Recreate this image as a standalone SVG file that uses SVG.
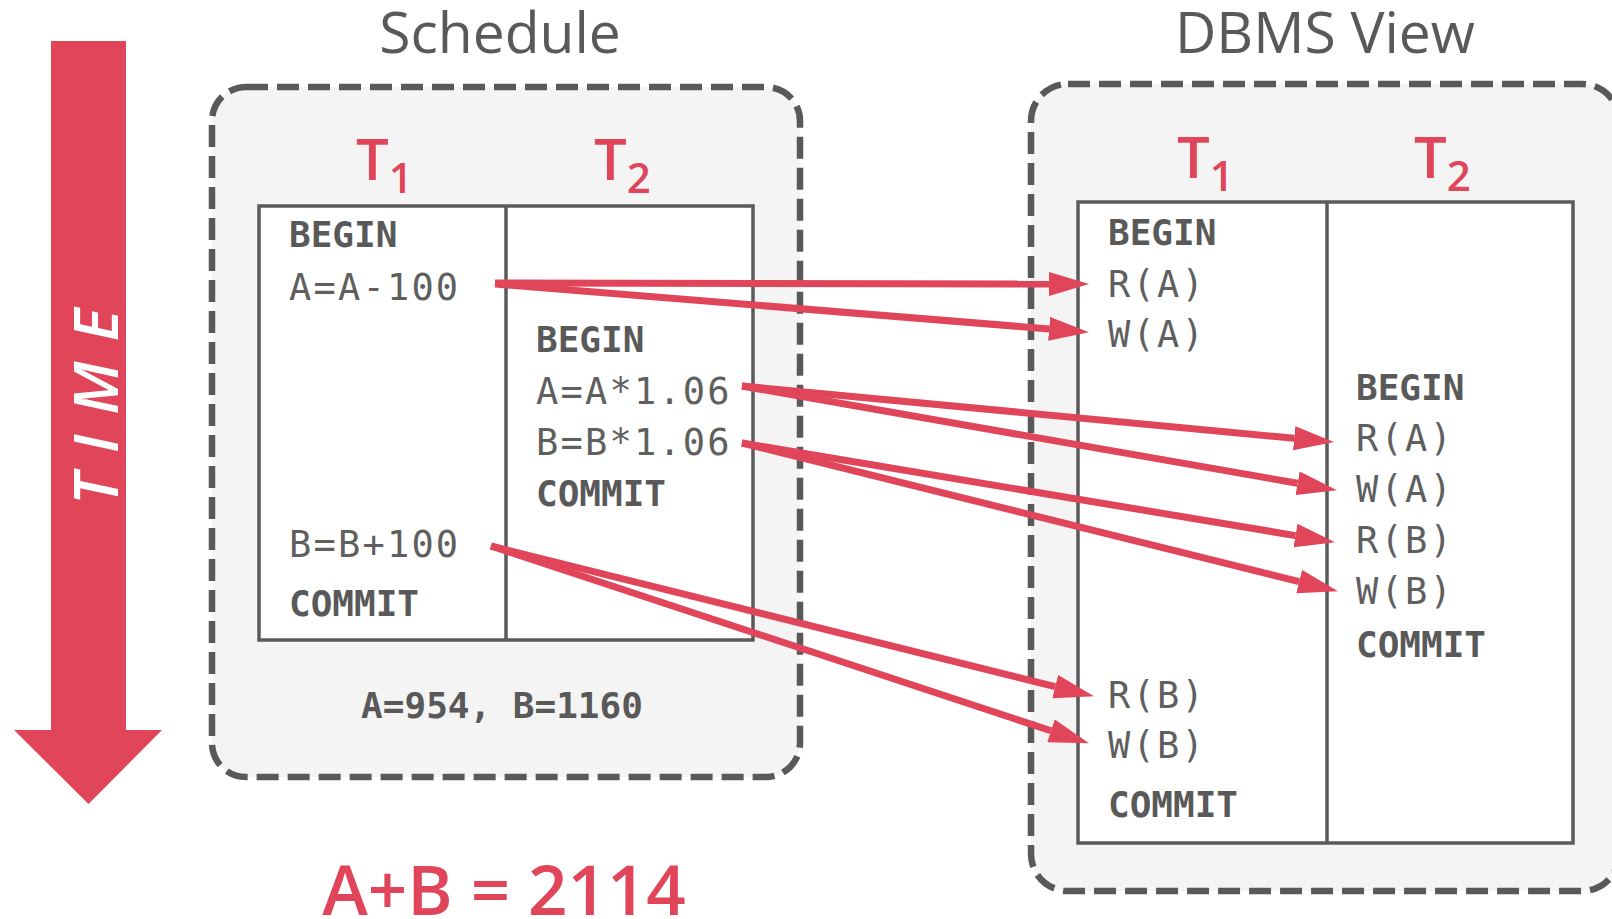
<svg xmlns="http://www.w3.org/2000/svg" width="1612" height="919" viewBox="0 0 1612 919">
  <defs>
    <style>
      .title { font-family: "Open Sans", "Noto Sans", sans-serif; font-size: 57px; fill: #595959; }
      .tlab { font-family: "Open Sans", "Noto Sans", sans-serif; font-weight: 600; font-size: 58px; fill: #E0455A; }
      .sub { font-size: 42px; }
      .box { fill: #F4F4F4; stroke: #595959; stroke-width: 6.5; stroke-dasharray: 22 9; }
      .tbl { fill: #FFFFFF; stroke: #5A5A5A; stroke-width: 3.5; }
      .div { stroke: #5A5A5A; stroke-width: 3.5; }
      .kw { font-family: "DejaVu Sans Mono", "Liberation Mono", monospace; font-weight: bold; font-size: 36px; fill: #595959; }
      .op { font-family: "DejaVu Sans Mono", "Liberation Mono", monospace; font-size: 37px; letter-spacing: 2.2px; fill: #5F5F5F; }
      .res { font-family: "DejaVu Sans Mono", "Liberation Mono", monospace; font-weight: bold; font-size: 36px; fill: #595959; }
      .sum { font-family: "Open Sans", "Noto Sans", sans-serif; font-weight: 600; font-size: 69px; fill: #E0455A; }
      .time { font-family: "Open Sans", "Noto Sans", sans-serif; font-style: italic; font-weight: 600; font-size: 62px; letter-spacing: 20px; fill: #FFFFFF; }
      .conn line { stroke: #E0455A; stroke-width: 7; fill: none; }
    </style>
    <marker id="ah" markerUnits="userSpaceOnUse" markerWidth="40" markerHeight="24" viewBox="0 0 40 24" refX="0" refY="12" orient="auto">
      <path d="M0,0 L40,12 L0,24 Z" fill="#E0455A"/>
    </marker>
  </defs>

  <rect width="1612" height="919" fill="#FFFFFF"/>

  <g id="time-arrow">
    <path d="M51,41 H126 V730 H162 L88.5,804 L14,730 H51 Z" fill="#E0455A"/>
    <text class="time" transform="translate(118,505) rotate(-90)" x="0" y="0">TIME</text>
  </g>

  <g id="schedule">
    <text class="title" x="500" y="53" text-anchor="middle">Schedule</text>
    <rect class="box" x="212" y="87" width="588" height="690" rx="34" ry="34"/>
    <text class="tlab" x="356" y="180">T<tspan class="sub" dy="13">1</tspan></text>
    <text class="tlab" x="594" y="180">T<tspan class="sub" dy="13">2</tspan></text>
    <rect class="tbl" x="259" y="206" width="494" height="434"/>
    <line class="div" x1="506" y1="206" x2="506" y2="640"/>
    <text class="kw" x="289" y="247">BEGIN</text>
    <text class="op" x="289" y="300">A=A-100</text>
    <text class="op" x="289" y="557">B=B+100</text>
    <text class="kw" x="289" y="616">COMMIT</text>
    <text class="kw" x="536" y="352">BEGIN</text>
    <text class="op" x="536" y="404">A=A*1.06</text>
    <text class="op" x="536" y="455">B=B*1.06</text>
    <text class="kw" x="536" y="506">COMMIT</text>
    <text class="res" x="502" y="718" text-anchor="middle">A=954, B=1160</text>
  </g>

  <g id="dbms-view">
    <text class="title" x="1325" y="53" text-anchor="middle">DBMS View</text>
    <rect class="box" x="1031" y="84" width="588" height="807" rx="37" ry="37"/>
    <text class="tlab" x="1177" y="178">T<tspan class="sub" dy="13">1</tspan></text>
    <text class="tlab" x="1414" y="178">T<tspan class="sub" dy="13">2</tspan></text>
    <rect class="tbl" x="1078" y="202" width="495" height="641"/>
    <line class="div" x1="1327" y1="202" x2="1327" y2="843"/>
    <text class="kw" x="1108" y="245">BEGIN</text>
    <text class="op" x="1108" y="297">R(A)</text>
    <text class="op" x="1108" y="347">W(A)</text>
    <text class="op" x="1108" y="708">R(B)</text>
    <text class="op" x="1108" y="758">W(B)</text>
    <text class="kw" x="1108" y="817">COMMIT</text>
    <text class="kw" x="1356" y="400">BEGIN</text>
    <text class="op" x="1356" y="451">R(A)</text>
    <text class="op" x="1356" y="502">W(A)</text>
    <text class="op" x="1356" y="553">R(B)</text>
    <text class="op" x="1356" y="604">W(B)</text>
    <text class="kw" x="1356" y="657">COMMIT</text>
  </g>

  <g id="sum">
    <text class="sum" x="504" y="915" text-anchor="middle">A+B = 2114</text>
  </g>

  <g id="connectors" class="conn">
    <line x1="495" y1="283" x2="1049" y2="284" marker-end="url(#ah)"/>
    <line x1="495" y1="284" x2="1049.1" y2="328.9" marker-end="url(#ah)"/>
    <line x1="742" y1="386" x2="1294.2" y2="438.3" marker-end="url(#ah)"/>
    <line x1="742" y1="386" x2="1297.6" y2="483.3" marker-end="url(#ah)"/>
    <line x1="742" y1="443" x2="1295.5" y2="535.6" marker-end="url(#ah)"/>
    <line x1="742" y1="443" x2="1299.2" y2="581.6" marker-end="url(#ah)"/>
    <line x1="491" y1="546" x2="1055.2" y2="686.6" marker-end="url(#ah)"/>
    <line x1="491" y1="546" x2="1051" y2="730.8" marker-end="url(#ah)"/>
  </g>
</svg>
